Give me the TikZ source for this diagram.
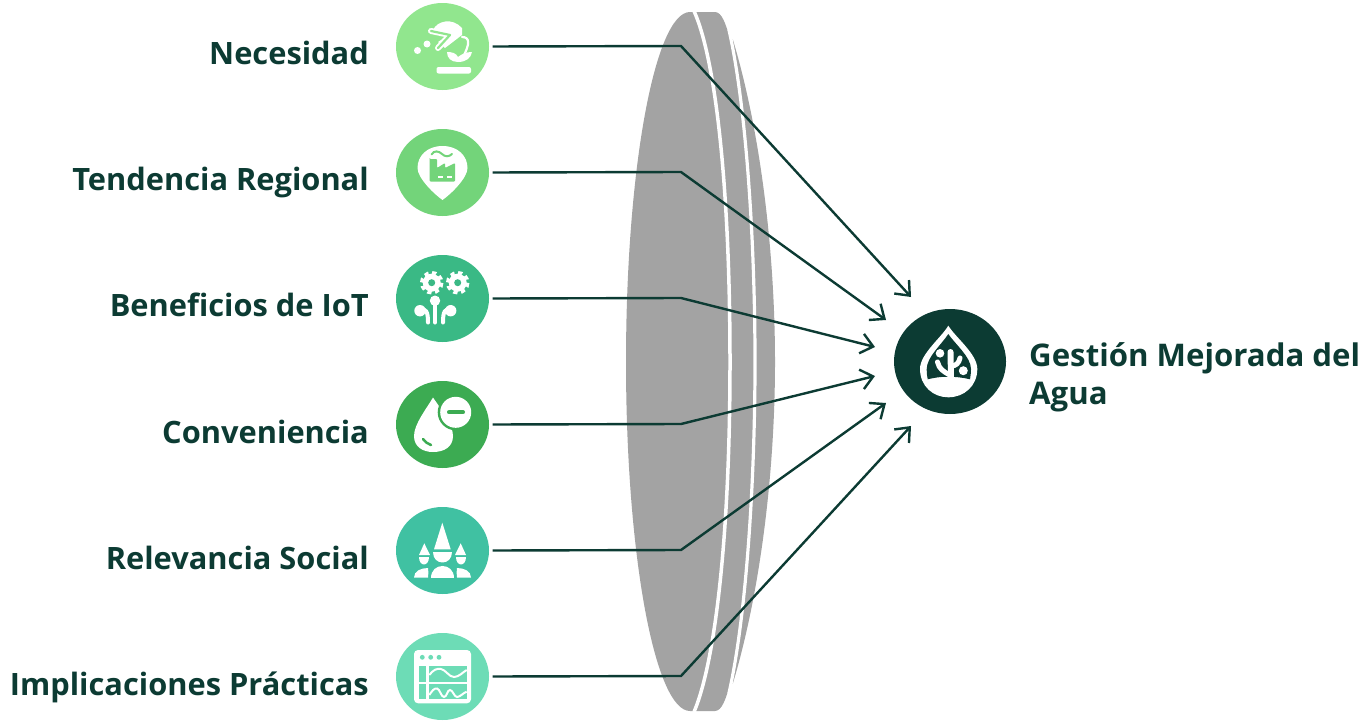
\documentclass[tikz,border=0pt]{standalone}
\usepackage{fontspec}
\setmainfont{Open Sans}
\usepackage{tikz}
\usetikzlibrary{arrows.meta,shapes.geometric}
\definecolor{darkteal}{HTML}{0C3B33}
\definecolor{lensgray}{HTML}{A3A3A3}
\definecolor{iconA}{HTML}{91E68E}
\definecolor{iconB}{HTML}{73D47A}
\definecolor{iconC}{HTML}{3AB985}
\definecolor{iconD}{HTML}{3CAB52}
\definecolor{iconE}{HTML}{40C1A2}
\definecolor{iconF}{HTML}{6DDCB6}
\tikzset{
	icondisc/.style={ellipse, minimum width=93pt, minimum height=87pt, inner sep=0pt, fill=#1},
	itemlabel/.style={anchor=base east, inner sep=0pt, text=darkteal, font=\fontsize{30.8}{36}\selectfont\bfseries},
	link/.style={-{Straight Barb[length=12pt,width=20pt]}, line width=2.4pt, darkteal, line join=miter, shorten <=3.5pt},
	glyphline/.style={draw=white, line cap=round, line join=round}
}
\begin{document}
\begin{tikzpicture}[x=1pt, y=-1pt]
	\useasboundingbox (0, 0) rectangle (1364, 720);

	% lens
	\fill[lensgray] (690, 12) .. controls (655, 12) and (626, 169) .. (626, 362)
	.. controls (626, 555) and (655, 711) .. (690, 711)
	to (715, 711) .. controls (722, 711) and (726, 698) .. (729.5, 686) to (733, 683)
	.. controls (760, 593) and (775, 473) .. (775, 362)
	.. controls (775, 250) and (760, 130) .. (733, 40) to (729.5, 37)
	.. controls (726, 25) and (722, 12) .. (715, 12) to cycle;
	\draw[white, line width=3.5pt] (694, 11) .. controls (716, 60) and (730, 190) .. (730, 362)
	.. controls (730, 530) and (716, 660) .. (694, 712);
	\draw[white, line width=3.2pt] (729, 30) .. controls (746, 105) and (755, 240) .. (755, 362)
	.. controls (755, 483) and (746, 618) .. (729, 693);

	% left column
	\node[icondisc=iconA] (necesidad) at (442.5, 46.5) {};
	\node[icondisc=iconB] (tendencia) at (442.5, 172.5) {};
	\node[icondisc=iconC] (beneficios) at (442.5, 298.5) {};
	\node[icondisc=iconD] (conveniencia) at (442.5, 424.5) {};
	\node[icondisc=iconE] (relevancia) at (442.5, 550.5) {};
	\node[icondisc=iconF] (implicaciones) at (442.5, 676.5) {};
	\node[itemlabel] (necesidadtxt) at (369, 64) {Necesidad};
	\node[itemlabel] (tendenciatxt) at (369, 190) {Tendencia Regional};
	\node[itemlabel] (beneficiostxt) at (369, 316) {Beneficios de IoT};
	\node[itemlabel] (convenienciatxt) at (369, 443) {Conveniencia};
	\node[itemlabel] (relevanciatxt) at (369, 569) {Relevancia Social};
	\node[itemlabel] (implicacionestxt) at (369, 695) {Implicaciones Prácticas};

	% result
	\node[ellipse, minimum width=112pt, minimum height=105pt, inner sep=0pt, fill=darkteal] (gestion) at (950, 361.5) {};
	\node[anchor=west, align=left, inner sep=0pt, text=darkteal, font=\fontsize{31.2}{38}\selectfont\bfseries] (gestiontxt) at (1029, 377) {Gestión Mejorada del\\Agua};

	% necesidad glyph
	\fill[white, rounded corners=2pt] (436.5, 67) rectangle (471, 73.5);
	\fill[white] (417.5, 50.5) circle (3.5);
	\fill[white] (427, 44) circle (3.5);
	\fill[white] (433, 30) .. controls (437, 21) and (452, 17) .. (462, 28) to (462, 35) to (445, 48) to (438, 42) to (447, 36) to cycle;
	\draw[white, line width=6pt, line cap=round, line join=round] (431, 31) to (450, 35) to (438, 48);
	\draw[iconA, line width=2.2pt, line cap=round, line join=round] (431, 31) to (450, 35) to (438, 48);
	\draw[white, line width=2.2pt, line cap=round] (462, 37) .. controls (470, 37) and (470, 44) .. (463, 57);
	\fill[white] (447, 52) .. controls (452, 52) and (456, 53) .. (458, 57) .. controls (462, 54) and (466, 52) .. (472, 52) .. controls (471, 58) and (466, 62) .. (458, 62) .. controls (451, 62) and (447, 58) .. (447, 52) to cycle;

	% tendencia glyph
	\fill[white] (442.5, 146) .. controls (427, 146) and (417.5, 156) .. (417.5, 168) .. controls (417.5, 178) and (434, 194) .. (442.5, 200) .. controls (451, 194) and (467.5, 178) .. (467.5, 168) .. controls (467.5, 156) and (458, 146) .. (442.5, 146) to cycle;
	\fill[iconB, rounded corners=1pt] (429.5, 159) to (437, 159) to (437, 168) to (445, 163) to (445, 168) to (455, 163) to (455, 181.5) to (429.5, 181.5) to cycle;
	\draw[iconB, line width=2pt, line cap=round] (431.5, 154.5) .. controls (434, 150) and (439, 151) .. (442, 154) .. controls (445, 157) and (449, 157) .. (452, 154);
	\fill[white] (438.3, 176) rectangle (443.3, 178.3);
	\fill[white] (447.3, 176) rectangle (452.3, 178.3);

	% beneficios glyph
	\draw[white, line width=4.5pt, dash pattern=on 4pt off 3.46pt] (431.7, 282.7) circle (9.5);
	\fill[white] (431.7, 282.7) circle (9);
	\fill[iconC] (431.7, 282.7) circle (3.5);
	\draw[white, line width=4.5pt, dash pattern=on 4pt off 3.46pt] (457.7, 282.7) circle (9.5);
	\fill[white] (457.7, 282.7) circle (9);
	\fill[iconC] (457.7, 282.7) circle (3.5);
	\fill[white] (435, 300.7) circle (5.2);
	\fill[white] (420, 310.7) circle (5.7);
	\fill[white] (450.7, 310.7) circle (5.7);
	\draw[glyphline, line width=4pt] (435, 300.7) to (435, 322.5);
	\draw[glyphline, line width=4pt] (420, 309) .. controls (426, 309) and (428, 311) .. (428, 322.5);
	\draw[glyphline, line width=4pt] (450.7, 309) .. controls (445, 309) and (443, 311) .. (443, 322.5);

	% conveniencia glyph
	\fill[white] (433, 397.5) .. controls (427, 408) and (414, 424) .. (414, 436) .. controls (414, 447) and (423, 452) .. (433, 452) .. controls (444, 452) and (453, 447) .. (453, 436) .. controls (453, 424) and (440, 408) .. (433, 397.5) to cycle;
	\fill[iconD] (455.7, 412.3) circle (18);
	\fill[white] (455.7, 412.3) circle (15.5);
	\draw[iconD, line width=4pt, line cap=round] (449, 412.3) to (463, 412.3);
	\draw[iconD, line width=2.5pt, line cap=round] (423, 439) .. controls (425, 442) and (428, 444) .. (431, 445);

	% relevancia glyph
	\fill[white] (442.3, 522.7) to (434, 549.3) to (450.7, 549.3) to cycle;
	\fill[white] (424.3, 543.3) to (419, 555) to (430, 555) to cycle;
	\fill[white] (460.7, 543.3) to (455, 555) to (466, 555) to cycle;
	\fill[white] (433.3, 551.7) .. controls (433.3, 566) and (451.7, 566) .. (451.7, 551.7) to cycle;
	\fill[white] (419.3, 557.3) .. controls (419.3, 567) and (429.3, 567) .. (429.3, 557.3) to cycle;
	\fill[white] (455.7, 557.3) .. controls (455.7, 567) and (465.7, 567) .. (465.7, 557.3) to cycle;
	\fill[white] (430.7, 577.5) .. controls (430.7, 562) and (454, 562) .. (454, 577.5) to cycle;
	\fill[white] (414, 577.5) .. controls (414, 571) and (421, 568) .. (428, 568) .. controls (429, 571) and (428, 574) .. (428, 577.5) to cycle;
	\fill[white] (471, 577.5) .. controls (471, 571) and (464, 568) .. (457, 568) .. controls (456, 571) and (457, 574) .. (457, 577.5) to cycle;

	% implicaciones glyph
	\fill[white, rounded corners=4pt] (414, 650) rectangle (471, 703.3);
	\fill[iconF] (422.3, 657.3) circle (2.4);
	\fill[iconF] (430.7, 657.3) circle (2.4);
	\fill[iconF] (439, 657.3) circle (2.4);
	\fill[iconF] (419.3, 665.7) rectangle (426, 681.7);
	\fill[iconF] (419.3, 684) rectangle (426, 699);
	\fill[iconF] (429.3, 665.7) rectangle (466.7, 681.7);
	\fill[iconF] (429.3, 684) rectangle (466.7, 699);
	\draw[white, line width=2pt] (429.3, 675) .. controls (433, 670) and (437, 668) .. (441, 669) .. controls (446, 670) and (449, 677) .. (454, 677) .. controls (459, 677) and (463, 672) .. (466.7, 670);
	\draw[white, line width=2pt] (429.3, 695) .. controls (432, 691) and (434, 688) .. (437, 688.5) .. controls (440, 689) and (441, 697) .. (444, 697) .. controls (447, 697) and (447, 690) .. (450, 690) .. controls (453, 690) and (454, 697) .. (457, 697) .. controls (460, 697) and (463, 693) .. (466.7, 691.7);

	% gestion glyph
	\fill[white] (948.3, 325.7) .. controls (941, 338) and (920, 354) .. (920, 369) .. controls (920, 386) and (933, 397.3) .. (948.3, 397.3) .. controls (964, 397.3) and (977.3, 386) .. (977.3, 369) .. controls (977.3, 354) and (956, 338) .. (948.3, 325.7) to cycle;
	\fill[darkteal] (948.3, 334) .. controls (942, 344) and (926.7, 357) .. (926.7, 369) .. controls (926.7, 373) and (927, 376) .. (927.7, 379.3) .. controls (935, 377.5) and (941, 376.7) .. (948, 376.7) .. controls (955, 376.7) and (963, 377.5) .. (970, 379.3) .. controls (970.5, 376) and (971, 373) .. (971, 369) .. controls (971, 357) and (955, 344) .. (948.3, 334) to cycle;
	\fill[white] (940, 353.3) circle (4.3);
	\fill[white] (963.3, 370.7) circle (4.5);
	\draw[white, line width=6pt, line cap=round] (950.5, 352) to (951, 378);
	\draw[white, line width=5pt, line cap=round] (937.5, 362) .. controls (939, 369) and (944, 372) .. (950, 375);
	\draw[white, line width=5pt, line cap=round] (951, 366) .. controls (956, 366) and (959, 363) .. (960, 358);

	% arrow ends
	\coordinate (necesidadbend) at (681, 46);
	\coordinate (tendenciabend) at (681, 172);
	\coordinate (beneficiosbend) at (681, 298);
	\coordinate (conveniabend) at (681, 424);
	\coordinate (relevanciabend) at (681, 550);
	\coordinate (implicacionesbend) at (681, 676);
	\coordinate (necesidadend) at (911, 297);
	\coordinate (tendenciaend) at (886, 320);
	\coordinate (beneficiosend) at (875, 347);
	\coordinate (conveniaend) at (875, 376);
	\coordinate (relevanciaend) at (886, 403);
	\coordinate (implicacionesend) at (911, 426);

	\draw[link] (necesidad.east) to (necesidadbend) to (necesidadend);
	\draw[link] (tendencia.east) to (tendenciabend) to (tendenciaend);
	\draw[link] (beneficios.east) to (beneficiosbend) to (beneficiosend);
	\draw[link] (conveniencia.east) to (conveniabend) to (conveniaend);
	\draw[link] (relevancia.east) to (relevanciabend) to (relevanciaend);
	\draw[link] (implicaciones.east) to (implicacionesbend) to (implicacionesend);
\end{tikzpicture}
\end{document}
